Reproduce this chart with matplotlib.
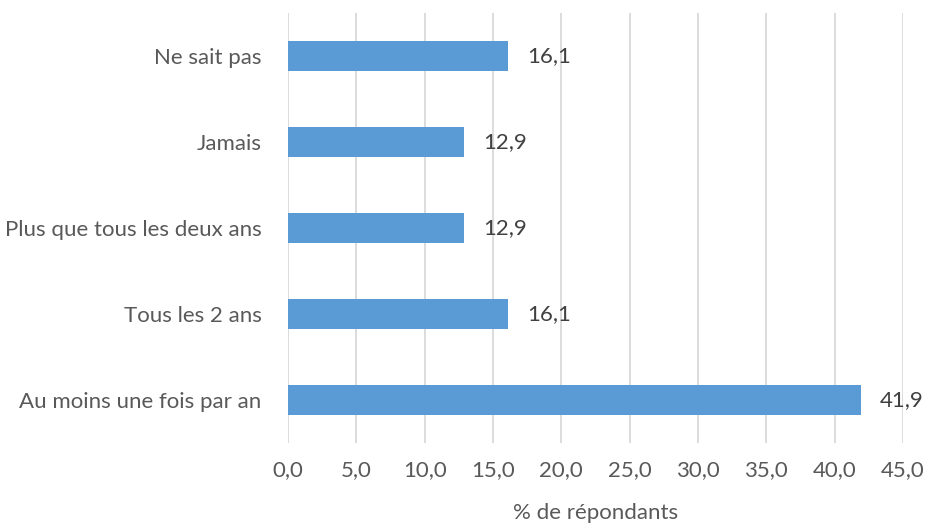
import matplotlib
matplotlib.use("Agg")
import matplotlib.pyplot as plt
from matplotlib.ticker import FuncFormatter

categories = ["Au moins une fois par an", "Tous les 2 ans", "Plus que tous les deux ans", "Jamais", "Ne sait pas"]
values = [41.9, 16.1, 12.9, 12.9, 16.1]
xticks = [0, 5, 10, 15, 20, 25, 30, 35, 40, 45]
xlabel = "% de répondants"

plt.rcParams['font.family'] = ['Lato', 'DejaVu Sans']
text_color = "#595959"
fs = 16

fig = plt.figure(figsize=(9.27, 5.25), dpi=100)
ax = fig.add_axes([288/927, 82/525, (903-288)/927, (443-13)/525])

y = range(len(categories))
ax.barh(y, values, height=0.35, color="#5B9BD5", zorder=3)
for yi, v in zip(y, values):
    ax.text(v + 1.4, yi, f"{v:.1f}".replace(".", ","), va="center", ha="left",
            fontsize=fs, color="#404040")

ax.set_xlim(0, 45)
ax.set_ylim(-0.5, len(categories) - 0.5)
ax.set_xticks(xticks)
ax.xaxis.set_major_formatter(FuncFormatter(lambda v, p: f"{v:.1f}".replace(".", ",")))
ax.set_yticks(list(y))
ax.set_yticklabels(categories)
ax.tick_params(axis="both", length=0, labelsize=fs, colors=text_color)
ax.tick_params(axis="x", pad=12)
ax.tick_params(axis="y", pad=19)
ax.grid(axis="x", color="#D9D9D9", linewidth=1.3, zorder=0)
for s in ax.spines.values():
    s.set_visible(False)
ax.set_xlabel(xlabel, fontsize=fs, color=text_color, labelpad=17)

fig.savefig("out.png", dpi=100)
